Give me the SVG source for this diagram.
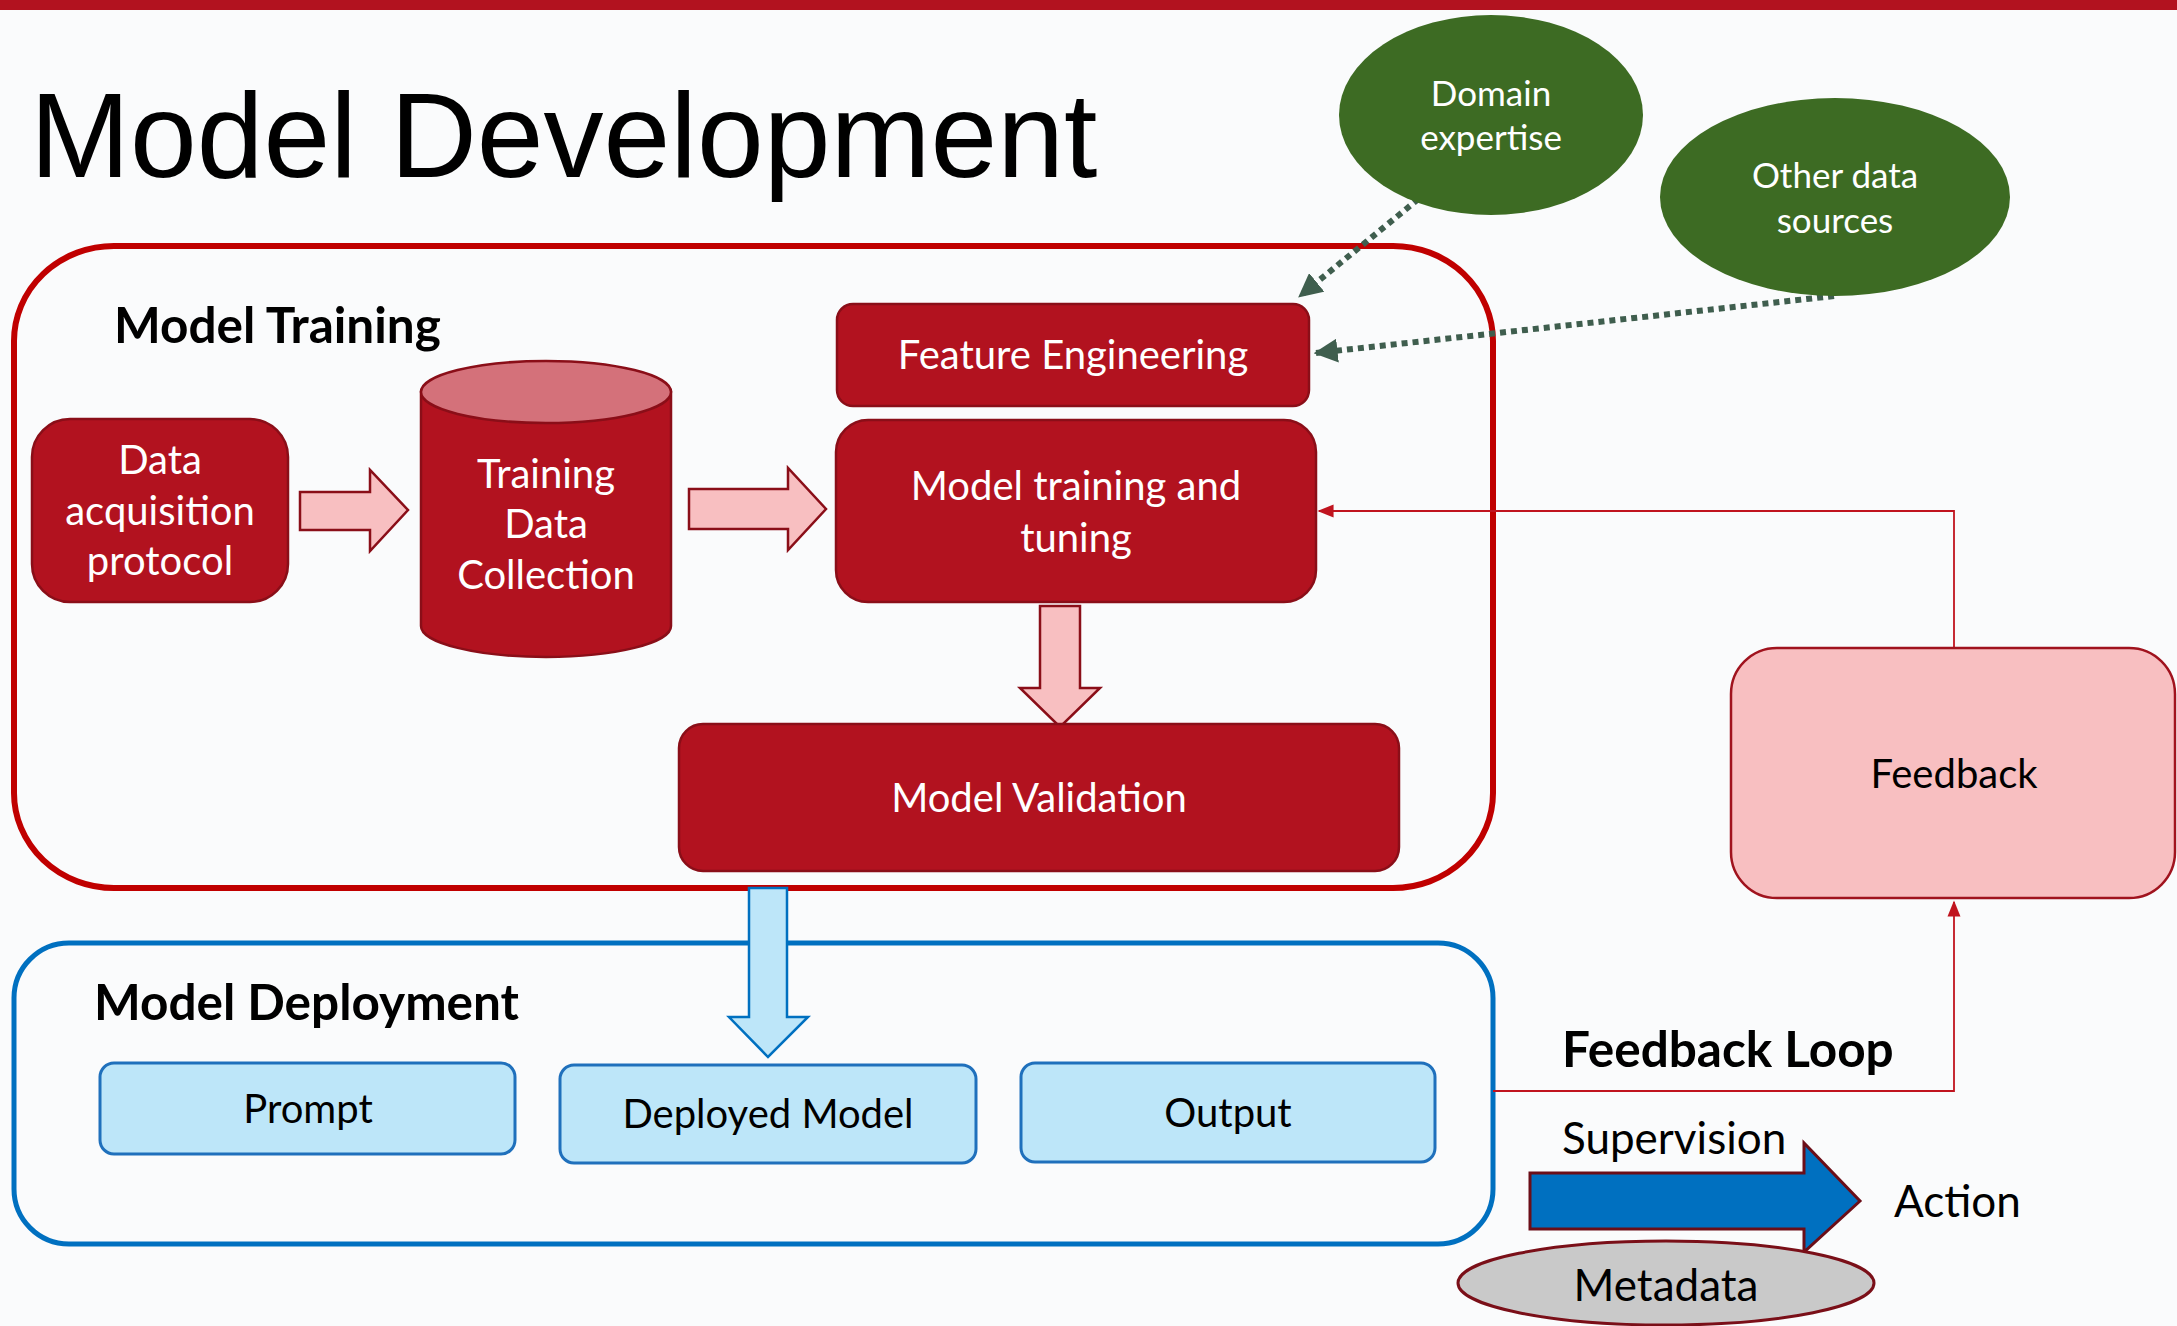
<svg xmlns="http://www.w3.org/2000/svg" width="2177" height="1326" viewBox="0 0 2177 1326">
<style>
.bg{fill:#FAFBFC}
.rednode{fill:#B2121F;stroke:#8A0E18;stroke-width:2.5}
.wt{fill:#FFFFFF;font-family:Lato,"Open Sans",sans-serif;font-size:40px;text-anchor:middle}
.bt{fill:#000000;font-family:Lato,"Open Sans",sans-serif;font-size:40px;text-anchor:middle}
.hd{fill:#000000;font-family:Lato,"Open Sans",sans-serif;font-size:49.5px;font-weight:bold}
.pinkarrow{fill:#F8BFC1;stroke:#8A0E18;stroke-width:2.5}
.green{fill:#3D6B23}
.gt{fill:#FFFFFF;font-family:Lato,"Open Sans",sans-serif;font-size:35px;text-anchor:middle}
.bluenode{fill:#BDE6F9;stroke:#1F70BC;stroke-width:3}
.dots{fill:none;stroke:#3F5E4E;stroke-width:6;stroke-dasharray:6 5}
.fbline{fill:none;stroke:#C0141F;stroke-width:1.8}
.lbl{fill:#000000;font-family:Lato,"Open Sans",sans-serif;font-size:44px}
</style>
<defs>
<marker id="mDot" viewBox="0 0 10 10" refX="9" refY="5" markerWidth="4" markerHeight="4" orient="auto" markerUnits="strokeWidth">
<path d="M0,0 L10,5 L0,10 Z" fill="#3F5E4E"/>
</marker>
<marker id="mRed" viewBox="0 0 10 10" refX="9" refY="5" markerWidth="9" markerHeight="9" orient="auto" markerUnits="strokeWidth">
<path d="M0,1 L10,5 L0,9 Z" fill="#C0141F"/>
</marker>
</defs>
<rect class="bg" x="0" y="0" width="2177" height="1326"/>
<rect x="0" y="0" width="2177" height="10" fill="#B2121F"/>
<text x="30" y="177" font-family="'Liberation Sans',Arial,sans-serif" font-size="120" fill="#000000">Model Development</text>

<g id="model-training">
<rect x="14" y="246" width="1479" height="642" rx="100" ry="95" fill="none" stroke="#C00000" stroke-width="6"/>
<text class="hd" x="114" y="343">Model Training</text>
</g>

<g id="model-deployment">
<rect x="14" y="943" width="1479" height="301" rx="55" ry="55" fill="none" stroke="#0070C0" stroke-width="5"/>
<text class="hd" x="94" y="1020">Model Deployment</text>
</g>

<g id="connectors">
<path class="pinkarrow" d="M300,492 L370,492 L370,470 L408,510 L370,551 L370,530 L300,530 Z"/>
<path class="pinkarrow" d="M689,489 L788,489 L788,468 L826,509 L788,550 L788,529 L689,529 Z"/>
<path class="pinkarrow" d="M1040,606 L1080,606 L1080,688 L1100,688 L1060,727 L1020,688 L1040,688 Z"/>
<path d="M749,888 L787,888 L787,1017 L808,1017 L768,1057 L729,1017 L749,1017 Z" fill="#BDE6F9" stroke="#0070C0" stroke-width="2.5"/>
<line class="dots" x1="1427" y1="192" x2="1300" y2="296" marker-end="url(#mDot)"/>
<line class="dots" x1="1834" y1="296" x2="1316" y2="353" marker-end="url(#mDot)"/>
<polyline class="fbline" points="1954,648 1954,511 1319,511" marker-end="url(#mRed)"/>
<polyline class="fbline" points="1493,1091 1954,1091 1954,902" marker-end="url(#mRed)"/>
<path d="M1530,1173 L1804,1173 L1804,1143 L1860,1201 L1804,1252 L1804,1229 L1530,1229 Z" fill="#0070C0" stroke="#6B0E18" stroke-width="3"/>
</g>

<g id="data-acquisition">
<rect class="rednode" x="32" y="419" width="256" height="183" rx="38" ry="38"/>
<text class="wt" x="160" y="474">Data</text>
<text class="wt" x="160" y="525">acquisition</text>
<text class="wt" x="160" y="575">protocol</text>
</g>

<g id="training-data">
<path class="rednode" d="M421,392 L421,626 A125,31 0 0 0 671,626 L671,392 Z"/>
<ellipse cx="546" cy="392" rx="125" ry="31" fill="#D4717A" stroke="#8A0E18" stroke-width="2.5"/>
<text class="wt" x="546" y="488">Training</text>
<text class="wt" x="546" y="538">Data</text>
<text class="wt" x="546" y="589">Collection</text>
</g>

<g id="feature-engineering">
<rect class="rednode" x="837" y="304" width="472" height="102" rx="16" ry="16"/>
<text class="wt" x="1073" y="369">Feature Engineering</text>
</g>

<g id="model-training-tuning">
<rect class="rednode" x="836" y="420" width="480" height="182" rx="32" ry="32"/>
<text class="wt" x="1076" y="500">Model training and</text>
<text class="wt" x="1076" y="552">tuning</text>
</g>

<g id="model-validation">
<rect class="rednode" x="679" y="724" width="720" height="147" rx="24" ry="24"/>
<text class="wt" x="1039" y="812">Model Validation</text>
</g>

<g id="domain-expertise">
<ellipse class="green" cx="1491" cy="115" rx="152" ry="100"/>
<text class="gt" x="1491" y="106">Domain</text>
<text class="gt" x="1491" y="150">expertise</text>
</g>

<g id="other-data">
<ellipse class="green" cx="1835" cy="197" rx="175" ry="99"/>
<text class="gt" x="1835" y="188">Other data</text>
<text class="gt" x="1835" y="233">sources</text>
</g>

<g id="feedback">
<rect x="1731" y="648" width="444" height="250" rx="46" ry="46" fill="#F8BFC1" stroke="#A0131E" stroke-width="2.5"/>
<text class="bt" x="1954" y="788">Feedback</text>
</g>

<g id="prompt">
<rect class="bluenode" x="100" y="1063" width="415" height="91" rx="14" ry="14"/>
<text class="bt" x="308" y="1123">Prompt</text>
</g>

<g id="deployed-model">
<rect class="bluenode" x="560" y="1065" width="416" height="98" rx="14" ry="14"/>
<text class="bt" x="768" y="1128">Deployed Model</text>
</g>

<g id="output">
<rect class="bluenode" x="1021" y="1063" width="414" height="99" rx="14" ry="14"/>
<text class="bt" x="1228" y="1127">Output</text>
</g>

<g id="labels">
<text class="hd" x="1562" y="1067">Feedback Loop</text>
<text class="lbl" x="1562" y="1154">Supervision</text>
<text class="lbl" x="1894" y="1217">Action</text>
</g>

<g id="metadata">
<ellipse cx="1666" cy="1283" rx="208" ry="42" fill="#C9C9C9" stroke="#7A0F18" stroke-width="3"/>
<text class="lbl" x="1666" y="1301" font-size="45" text-anchor="middle">Metadata</text>
</g>
</svg>
